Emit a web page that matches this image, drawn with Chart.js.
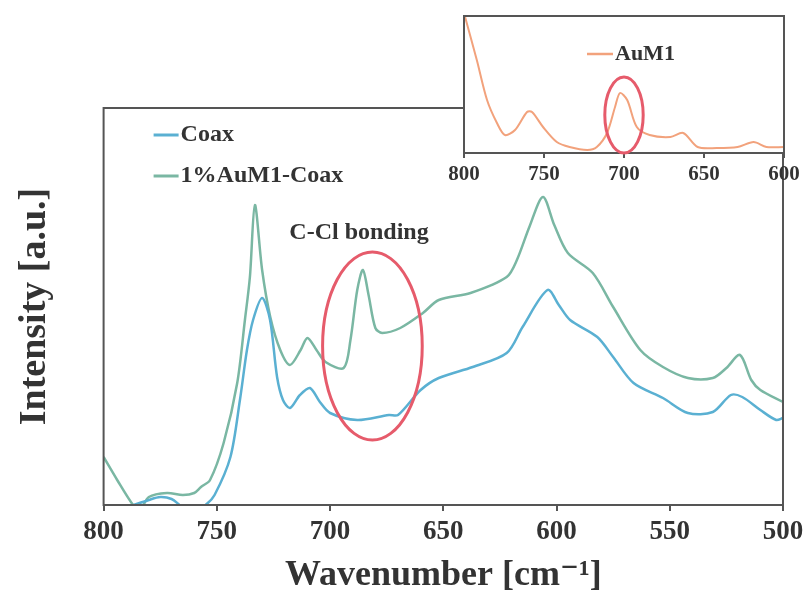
<!DOCTYPE html>
<html>
<head>
<meta charset="utf-8">
<script src="https://cdn.jsdelivr.net/npm/chart.js@4.4.1/dist/chart.umd.min.js"></script>
<style>
  html, body { margin: 0; padding: 0; background: #fff; }
  #wrap { position: relative; width: 803px; height: 594px; }
  #main { position: absolute; left: 0; top: 0; }
  #inset { position: absolute; left: 430px; top: 0; }
</style>
</head>
<body>
<div id="wrap">
  <canvas id="main" width="803" height="594"></canvas>
  <canvas id="inset" width="373" height="200"></canvas>
</div>
<script>
// main spectra (wavenumber, intensity a.u.)
const coaxWn = [800, 780, 775, 770, 765, 760, 755, 751, 744, 739.8, 736.7, 734, 730, 726.5, 723.4, 720.8, 717.7, 713.3, 708.9, 704.5, 700, 688, 674, 670, 660, 652, 637, 622, 615, 604, 599, 594, 582, 575, 566, 553, 542, 531, 523, 518, 510, 503, 500];
const coaxVal = [-10, 5, 8, 6, -2, -5, 0, 10, 48, 105, 155, 185, 207, 185, 128, 105, 97, 110, 117, 103, 92, 85, 90, 90, 115, 127, 138, 152, 178, 215, 200, 185, 168, 148, 122, 107, 92, 93, 110, 108, 95, 85, 87];

const auCoaxWn = [800, 794, 787, 784, 780, 772, 765, 760, 757, 753, 747, 741, 737.6, 735.4, 733.2, 730, 726.4, 722, 717.7, 713, 710, 706, 702, 694, 691, 688, 685.5, 683, 680, 677, 669, 659, 652, 638, 622, 617.5, 612, 606, 601, 595, 584, 575, 563, 553, 542, 531, 525, 519, 514, 510, 500];
const auCoaxVal = [48, 25, 0, -5, 8, 12, 10, 12, 18, 25, 62, 122, 185, 228, 300, 235, 188, 155, 140, 155, 167, 155, 143, 137, 165, 215, 235, 210, 177, 172, 177, 192, 205, 212, 228, 245, 278, 308, 280, 252, 232, 198, 155, 138, 127, 127, 137, 150, 125, 115, 103];

// inset spectrum
const auWn = [800, 792, 785.6, 779.4, 774.4, 768.1, 760.6, 757.5, 750.6, 742, 734, 723, 717, 710.6, 705.6, 702.5, 698, 692, 684, 671, 663, 654, 642, 629, 619, 611, 600];
const auVal = [140, 93, 53, 30, 18, 23, 41, 41, 26, 11, 6, 3, 6, 20, 46, 60, 53, 26, 18, 16, 20, 6, 5, 6, 11, 6, 6];

const mainTicks = [800, 750, 700, 650, 600, 550, 500];
const insetTicks = [800, 750, 700, 650, 600];

const serif = "'Liberation Serif', 'DejaVu Serif', serif";
const textColor = '#333';
const frameColor = '#555';
const blue = '#5ab0d2';
const green = '#7ab7a3';
const orange = '#f2a27c';
const red = '#e65b6b';

function toPoints(xs, ys) {
  return xs.map((w, i) => ({ x: w, y: ys[i] }));
}

const mainDecor = {
  id: 'mainDecor',
  afterDatasetsDraw(chart) {
    const { ctx, chartArea: a, scales: { x, y } } = chart;
    ctx.save();
    ctx.strokeStyle = frameColor;
    ctx.lineWidth = 2;
    ctx.strokeRect(a.left, a.top, a.right - a.left, a.bottom - a.top);

    // C-Cl ellipse
    const cx = x.getPixelForValue(681.3), cy = y.getPixelForValue(159);
    const rx = Math.abs(x.getPixelForValue(681.3 + 22) - cx);
    const ry = Math.abs(y.getPixelForValue(159 + 94) - cy);
    ctx.strokeStyle = red;
    ctx.lineWidth = 3;
    ctx.beginPath();
    ctx.ellipse(cx, cy, rx, ry, 0, 0, Math.PI * 2);
    ctx.stroke();

    ctx.fillStyle = textColor;
    ctx.font = 'bold 24px ' + serif;
    ctx.textBaseline = 'middle';
    ctx.textAlign = 'left';
    ctx.fillText('C-Cl bonding', x.getPixelForValue(718), y.getPixelForValue(272));

    // legend
    const items = [['Coax', blue, 135], ['1%AuM1-Coax', green, 176]];
    items.forEach(([label, color, ly]) => {
      ctx.strokeStyle = color;
      ctx.lineWidth = 3;
      ctx.beginPath();
      ctx.moveTo(a.left + 50, ly);
      ctx.lineTo(a.left + 75, ly);
      ctx.stroke();
      ctx.fillStyle = textColor;
      ctx.fillText(label, a.left + 77, ly);
    });
    ctx.restore();
  }
};

new Chart(document.getElementById('main'), {
  type: 'line',
  data: {
    datasets: [
      {
        label: 'Coax',
        data: toPoints(coaxWn, coaxVal),
        borderColor: blue,
        borderWidth: 2.5,
        pointRadius: 0,
        tension: 0.3
      },
      {
        label: '1%AuM1-Coax',
        data: toPoints(auCoaxWn, auCoaxVal),
        borderColor: green,
        borderWidth: 2.5,
        pointRadius: 0,
        tension: 0.3
      }
    ]
  },
  options: {
    responsive: false,
    animation: false,
    layout: { padding: { top: 108, right: 20, left: 0, bottom: 0 } },
    plugins: { legend: { display: false }, tooltip: { enabled: false } },
    scales: {
      x: {
        type: 'linear',
        reverse: true,
        min: 500,
        max: 800,
        afterBuildTicks: s => { s.ticks = mainTicks.map(v => ({ value: v })); },
        afterFit: s => { s.height = 89; s.paddingLeft = 0; s.paddingRight = 0; },
        ticks: { color: textColor, font: { family: serif, size: 27, weight: 'bold' }, padding: 5, maxRotation: 0 },
        grid: { drawOnChartArea: false, tickLength: 6, color: frameColor, lineWidth: 2 },
        border: { display: true, color: frameColor, width: 2 },
        title: {
          display: true,
          text: 'Wavenumber [cm⁻¹]',
          color: textColor,
          font: { family: serif, size: 36, weight: 'bold' },
          padding: { top: 0, bottom: -3 }
        }
      },
      y: {
        min: 0,
        max: 397,
        afterFit: s => { s.width = 103.6; },
        ticks: { display: false },
        grid: { display: false },
        border: { display: false },
        title: {
          display: true,
          text: 'Intensity [a.u.]',
          color: textColor,
          font: { family: serif, size: 38, weight: 'bold' },
          padding: { top: 12, bottom: 0 }
        }
      }
    }
  },
  plugins: [mainDecor]
});

const insetDecor = {
  id: 'insetDecor',
  beforeDatasetsDraw(chart) {
    const { ctx, chartArea: a } = chart;
    ctx.save();
    ctx.fillStyle = '#fff';
    ctx.fillRect(a.left, a.top, a.right - a.left, a.bottom - a.top);
    ctx.restore();
  },
  afterDatasetsDraw(chart) {
    const { ctx, chartArea: a, scales: { x, y } } = chart;
    ctx.save();
    ctx.strokeStyle = frameColor;
    ctx.lineWidth = 2;
    ctx.strokeRect(a.left, a.top, a.right - a.left, a.bottom - a.top);

    const cx = x.getPixelForValue(700), cy = y.getPixelForValue(38);
    const rx = Math.abs(x.getPixelForValue(700 + 12) - cx);
    const ry = Math.abs(y.getPixelForValue(38 + 38) - cy);
    ctx.strokeStyle = red;
    ctx.lineWidth = 3;
    ctx.beginPath();
    ctx.ellipse(cx, cy, rx, ry, 0, 0, Math.PI * 2);
    ctx.stroke();

    ctx.strokeStyle = orange;
    ctx.lineWidth = 2.5;
    ctx.beginPath();
    ctx.moveTo(a.left + 123, 54);
    ctx.lineTo(a.left + 149, 54);
    ctx.stroke();
    ctx.fillStyle = textColor;
    ctx.font = 'bold 22px ' + serif;
    ctx.textBaseline = 'middle';
    ctx.fillText('AuM1', a.left + 151, 54);
    ctx.restore();
  }
};

new Chart(document.getElementById('inset'), {
  type: 'line',
  data: {
    datasets: [{
      label: 'AuM1',
      data: toPoints(auWn, auVal),
      borderColor: orange,
      borderWidth: 2,
      pointRadius: 0,
      tension: 0.3
    }]
  },
  options: {
    responsive: false,
    animation: false,
    layout: { padding: { top: 16, right: 19, left: 34, bottom: 0 } },
    plugins: { legend: { display: false }, tooltip: { enabled: false } },
    scales: {
      x: {
        type: 'linear',
        reverse: true,
        min: 600,
        max: 800,
        afterBuildTicks: s => { s.ticks = insetTicks.map(v => ({ value: v })); },
        afterFit: s => { s.height = 47; s.paddingLeft = 0; s.paddingRight = 0; },
        ticks: { color: textColor, font: { family: serif, size: 21, weight: 'bold' }, padding: 4, maxRotation: 0 },
        grid: { drawOnChartArea: false, tickLength: 5, color: frameColor, lineWidth: 2 },
        border: { display: true, color: frameColor, width: 2 }
      },
      y: {
        display: false,
        min: 0,
        max: 137
      }
    }
  },
  plugins: [insetDecor]
});
</script>
</body>
</html>
